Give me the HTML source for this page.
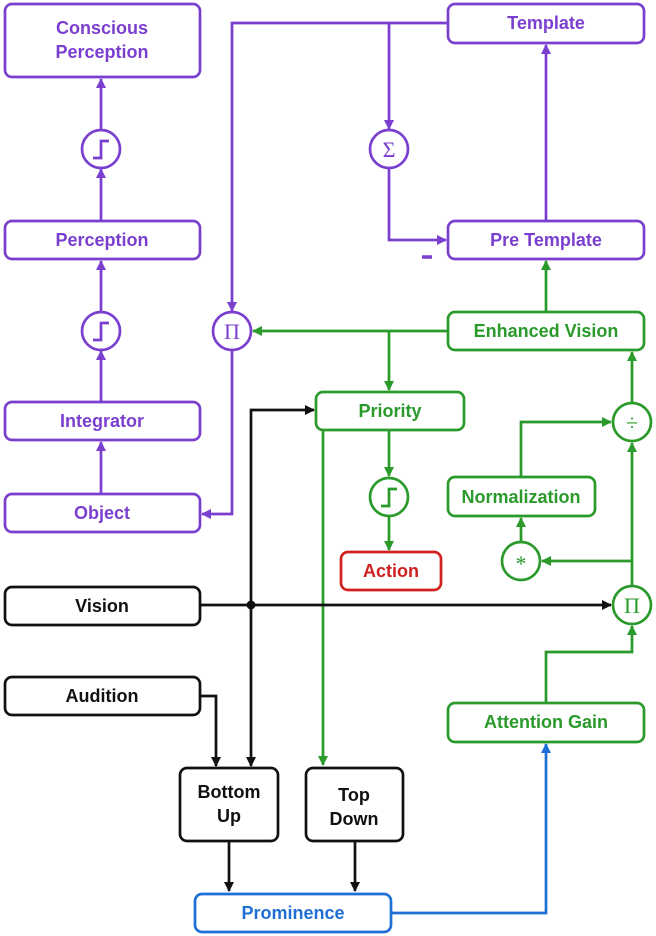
<!DOCTYPE html>
<html><head><meta charset="utf-8"><style>
html,body{margin:0;padding:0;background:#fff;}
svg{display:block;}
text{font-family:"Liberation Sans",sans-serif;font-weight:bold;font-size:18px;text-anchor:middle;}
.s{font-family:"Liberation Serif",serif;font-weight:normal;font-size:22px;}
</style></head><body>
<svg width="656" height="936" viewBox="0 0 656 936" xmlns="http://www.w3.org/2000/svg">
<defs>
<marker id="ap" markerWidth="10" markerHeight="10" refX="9" refY="5" orient="auto" markerUnits="userSpaceOnUse"><path d="M0,0 L10,5 L0,10 z" fill="#7b3fd0"/></marker>
<marker id="ag" markerWidth="10" markerHeight="10" refX="9" refY="5" orient="auto" markerUnits="userSpaceOnUse"><path d="M0,0 L10,5 L0,10 z" fill="#2a9a2a"/></marker>
<marker id="ak" markerWidth="10" markerHeight="10" refX="9" refY="5" orient="auto" markerUnits="userSpaceOnUse"><path d="M0,0 L10,5 L0,10 z" fill="#111"/></marker>
<marker id="ab" markerWidth="10" markerHeight="10" refX="9" refY="5" orient="auto" markerUnits="userSpaceOnUse"><path d="M0,0 L10,5 L0,10 z" fill="#1f6fd6"/></marker>
</defs>
<g fill="none" stroke-width="2.7">
<g stroke="#7b3fd0">
<rect x="5" y="4" width="195" height="73" rx="7"/>
<rect x="5" y="221" width="195" height="38" rx="7"/>
<rect x="5" y="402" width="195" height="38" rx="7"/>
<rect x="5" y="494" width="195" height="38" rx="7"/>
<rect x="448" y="4" width="196" height="39" rx="7"/>
<rect x="448" y="221" width="196" height="38" rx="7"/>
<circle cx="101" cy="149" r="19"/>
<circle cx="101" cy="331" r="19"/>
<circle cx="389" cy="149" r="19"/>
<circle cx="232" cy="331" r="19"/>
<path d="M93,158 h8 v-17 h8"/>
<path d="M93,340 h8 v-17 h8"/>
<path d="M101,494 V442" marker-end="url(#ap)"/>
<path d="M101,402 V351" marker-end="url(#ap)"/>
<path d="M101,312 V261" marker-end="url(#ap)"/>
<path d="M101,221 V169" marker-end="url(#ap)"/>
<path d="M101,130 V79" marker-end="url(#ap)"/>
<path d="M448,23 H232 V311" marker-end="url(#ap)"/>
<path d="M389,23 V129" marker-end="url(#ap)"/>
<path d="M389,168 V240 H446" marker-end="url(#ap)"/>
<path d="M546,221 V45" marker-end="url(#ap)"/>
<path d="M232,350 V514 H202" marker-end="url(#ap)"/>
</g>
<path d="M422,257 h10" stroke="#7b3fd0" stroke-width="3.5"/>
<g stroke="#2a9a2a">
<rect x="448" y="312" width="196" height="38" rx="7"/>
<rect x="316" y="392" width="148" height="38" rx="7"/>
<rect x="448" y="477" width="147" height="39" rx="7"/>
<rect x="448" y="703" width="196" height="39" rx="7"/>
<circle cx="632" cy="422" r="19"/>
<circle cx="389" cy="497" r="19"/>
<circle cx="521" cy="561" r="19"/>
<circle cx="632" cy="605" r="19"/>
<path d="M381,506 h8 v-17 h8"/>
<path d="M546,312 V261" marker-end="url(#ag)"/>
<path d="M448,331 H253" marker-end="url(#ag)"/>
<path d="M389,331 V390" marker-end="url(#ag)"/>
<path d="M389,430 V476" marker-end="url(#ag)"/>
<path d="M389,516 V550" marker-end="url(#ag)"/>
<path d="M323,430 V765" marker-end="url(#ag)"/>
<path d="M546,703 V652 H632 V626" marker-end="url(#ag)"/>
<path d="M632,586 V443" marker-end="url(#ag)"/>
<path d="M632,561 H542" marker-end="url(#ag)"/>
<path d="M521,542 V518" marker-end="url(#ag)"/>
<path d="M521,477 V422 H611" marker-end="url(#ag)"/>
<path d="M632,403 V352" marker-end="url(#ag)"/>
</g>
<rect x="341" y="552" width="100" height="38" rx="7" stroke="#d02020"/>
<g stroke="#111">
<rect x="5" y="587" width="195" height="38" rx="7"/>
<rect x="5" y="677" width="195" height="38" rx="7"/>
<rect x="180" y="768" width="98" height="73" rx="7"/>
<rect x="306" y="768" width="97" height="73" rx="7"/>
<path d="M200,605 H611" marker-end="url(#ak)"/>
<path d="M251,605 V410 H314" marker-end="url(#ak)"/>
<path d="M251,605 V766" marker-end="url(#ak)"/>
<path d="M200,696 H216 V766" marker-end="url(#ak)"/>
<path d="M229,841 V891" marker-end="url(#ak)"/>
<path d="M355,841 V891" marker-end="url(#ak)"/>
</g>
<circle cx="251" cy="605" r="4.5" fill="#111"/>
<rect x="195" y="894" width="196" height="38" rx="7" stroke="#1f6fd6"/>
<path d="M391,913 H546 V744" stroke="#1f6fd6" marker-end="url(#ab)"/>
</g>
<g fill="#7b3fd0">
<text x="102" y="34">Conscious</text>
<text x="102" y="58">Perception</text>
<text x="102" y="246">Perception</text>
<text x="102" y="427">Integrator</text>
<text x="102" y="519">Object</text>
<text x="546" y="29">Template</text>
<text x="546" y="246">Pre Template</text>
<text class="s" x="389" y="157">Σ</text>
<text class="s" x="232" y="339">Π</text>
</g>
<g fill="#2a9a2a">
<text x="546" y="337">Enhanced Vision</text>
<text x="390" y="417">Priority</text>
<text x="521" y="503">Normalization</text>
<text x="546" y="728">Attention Gain</text>
<text class="s" x="632" y="430">÷</text>
<text class="s" x="521" y="571">*</text>
<text class="s" x="632" y="613">Π</text>
</g>
<text x="391" y="577" fill="#d02020">Action</text>
<g fill="#111">
<text x="102" y="612">Vision</text>
<text x="102" y="702">Audition</text>
<text x="229" y="798">Bottom</text>
<text x="229" y="822">Up</text>
<text x="354" y="801">Top</text>
<text x="354" y="825">Down</text>
</g>
<text x="293" y="919" fill="#1f6fd6">Prominence</text>
</svg>
</body></html>
